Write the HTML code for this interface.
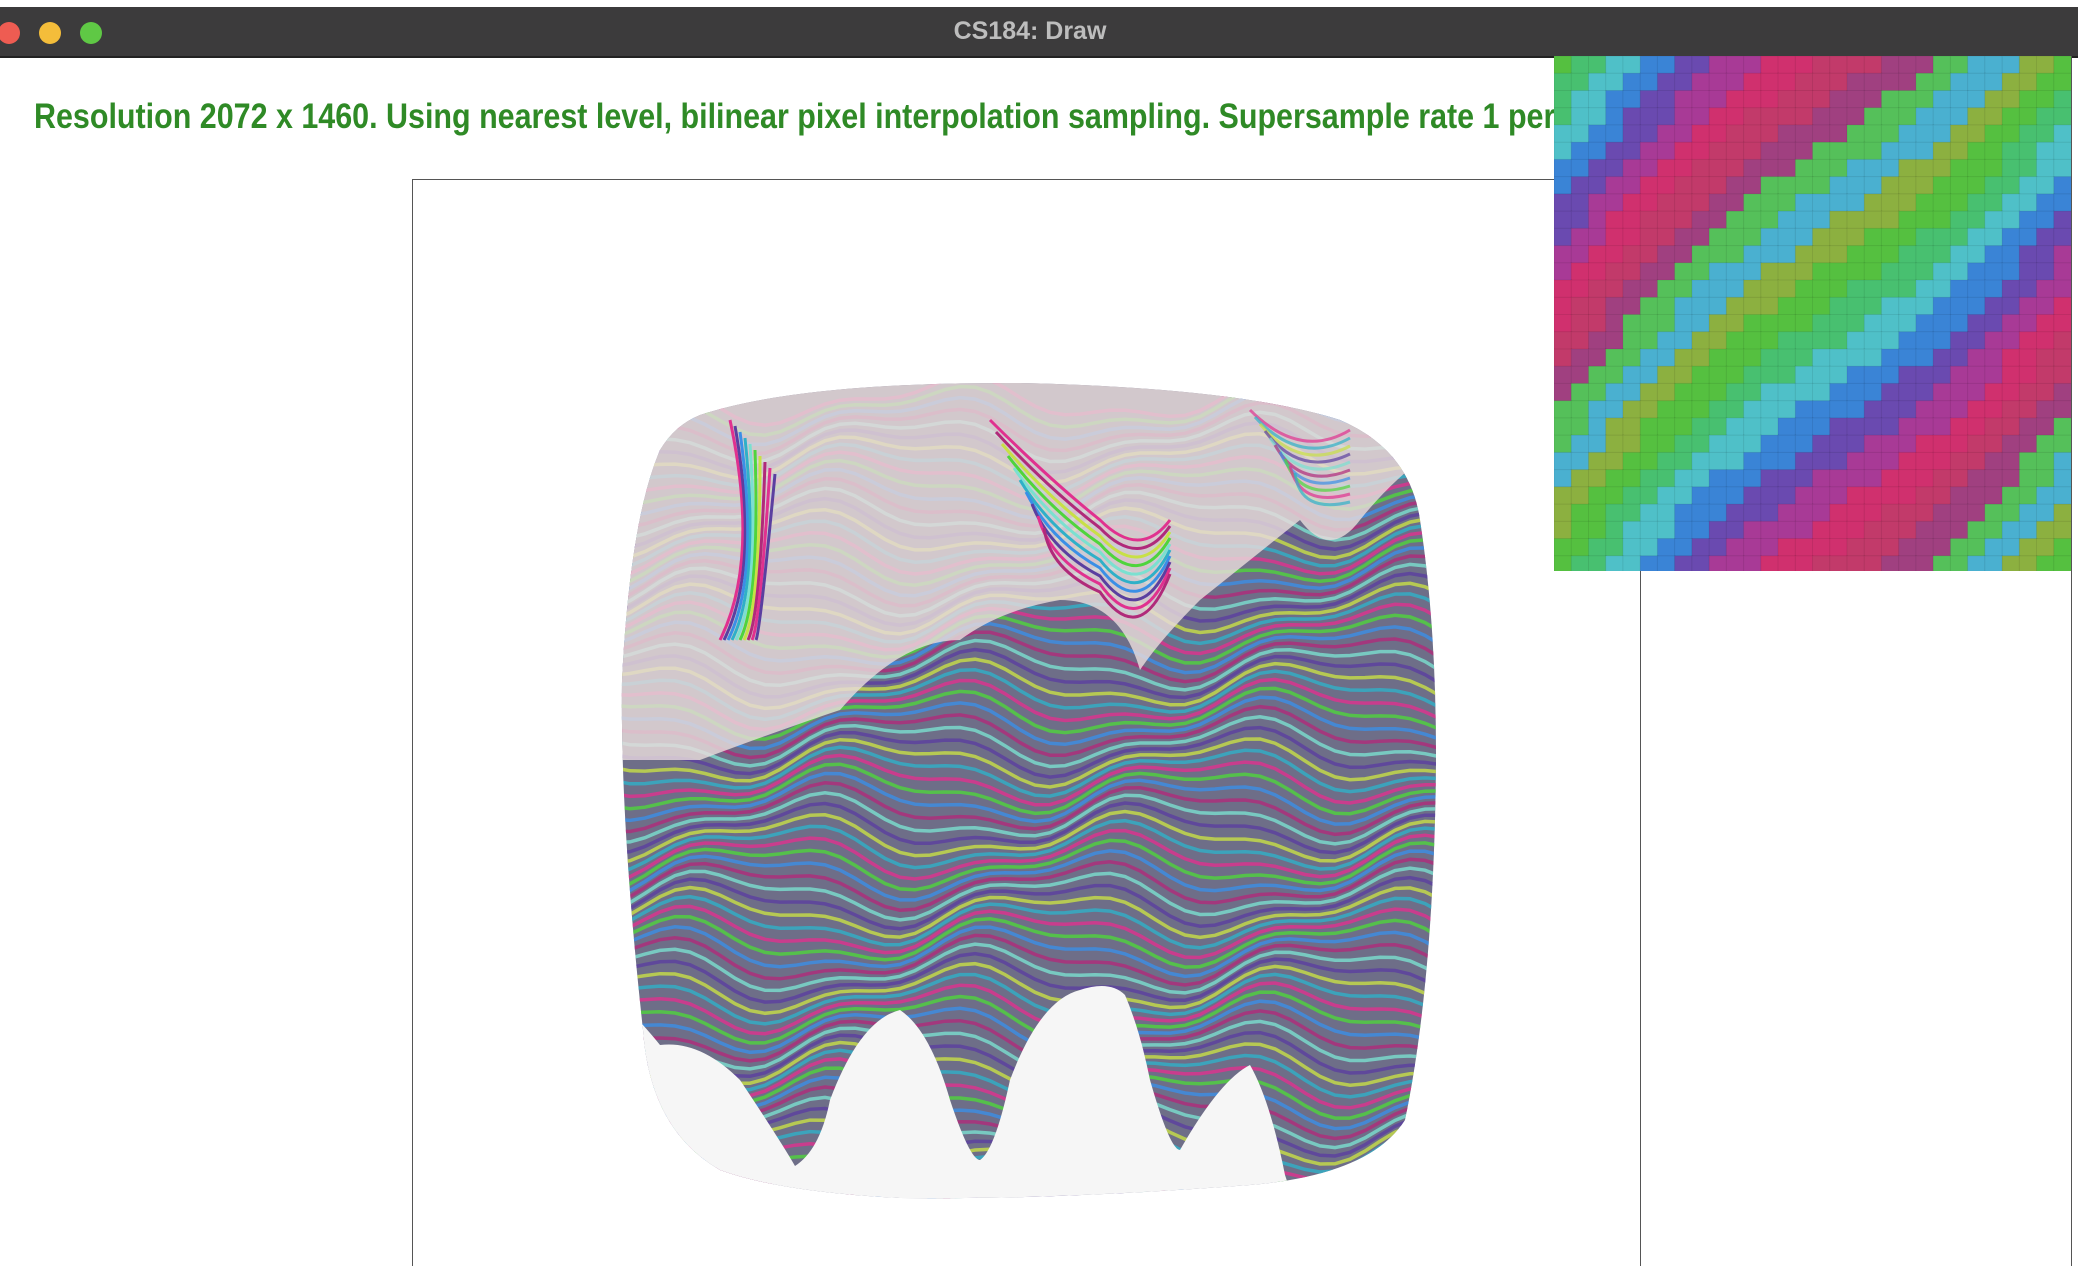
<!DOCTYPE html>
<html><head><meta charset="utf-8"><style>
html,body{margin:0;padding:0;background:#fff;width:2078px;height:1266px;overflow:hidden;position:relative;font-family:"Liberation Sans",sans-serif}
#bar{position:absolute;left:0;top:7px;width:2078px;height:49px;background:#3c3b3c;border-bottom:2px solid #222}
#title{position:absolute;left:0;width:2060px;top:10px;text-align:center;color:#bdbdbd;font-weight:bold;font-size:25px}
.dot{position:absolute;top:15px;width:22px;height:22px;border-radius:50%}
#info{position:absolute;left:34px;top:97px;color:#2f8a26;font-weight:bold;font-size:35px;white-space:nowrap;transform-origin:0 0;transform:scaleX(0.87)}
.ln{position:absolute;background:#555}
</style></head><body>
<div id="bar">
<div class="dot" style="left:-2px;background:#ee5c52"></div>
<div class="dot" style="left:39px;background:#f4bd3a"></div>
<div class="dot" style="left:80px;background:#5fc845"></div>
<div id="title">CS184: Draw</div>
</div>
<div class="ln" style="left:412px;top:179px;width:1229px;height:1px"></div>
<div class="ln" style="left:412px;top:179px;width:1px;height:1087px"></div>
<div class="ln" style="left:1640px;top:179px;width:1px;height:1087px"></div>
<div class="ln" style="left:2071px;top:56px;width:1px;height:1210px"></div>
<svg id="blob" width="2078" height="1266" style="position:absolute;left:0;top:0">
<defs><clipPath id="cp"><path d="M700,415 Q800,382 1020,383 Q1240,388 1340,420 Q1410,450 1420,520 Q1440,650 1435,820 Q1430,1000 1405,1120 Q1370,1175 1250,1185 Q1050,1200 900,1198 Q780,1192 720,1170 Q650,1130 643,1030 Q620,820 622,680 Q630,520 660,450 Q675,425 700,415Z"/></clipPath></defs>
<g clip-path="url(#cp)" id="g"></g>
</svg>
<div id="info">Resolution 2072 x 1460. Using nearest level, bilinear pixel interpolation sampling. Supersample rate 1 per pixel.</div>
<svg id="zoom" width="517" height="515" style="position:absolute;left:1554px;top:56px"></svg>
<script>
const NS='http://www.w3.org/2000/svg';
const g=document.getElementById('g');
function mk(t,a){const e=document.createElementNS(NS,t);for(const k in a)e.setAttribute(k,a[k]);return e;}
g.appendChild(mk('rect',{x:600,y:370,width:850,height:850,fill:'#6e6e88'}));
const cols=['#e0318f','#4fd43c','#3b8fe6','#b02a7a','#7be0d0','#5b3fa0','#c8e046','#2fb0c8'];
for(let i=0;i<90;i++){
 const y0=400+i*9.5;let d='';
 for(let x=600;x<=1450;x+=15){
  const w=Math.sin(x/55+i*0.2)*18+Math.sin(x/23)*8;
  d+=(x==600?'M':'L')+x+','+(y0+w).toFixed(1);
 }
 g.appendChild(mk('path',{d:d,stroke:cols[i%8],'stroke-width':3.5,fill:'none',opacity:0.8}));
}
// pale top region
g.appendChild(mk('path',{d:'M600,370 L1450,370 L1450,440 Q1400,470 1360,520 Q1330,560 1300,520 Q1250,560 1200,600 Q1160,640 1140,670 Q1120,600 1060,600 Q1000,610 960,640 Q900,640 840,710 Q780,730 700,760 L600,760Z',fill:'#e8dcdc',opacity:0.82}));
for(let i=0;i<10;i++){
 g.appendChild(mk('path',{d:`M${990+i*6},${420+i*12} Q1050,${480+i*10} 1100,${520+i*8} Q1140,${560+i*10} 1170,${520+i*6}`,stroke:cols[(i*3)%8],'stroke-width':3,fill:'none'}));
 g.appendChild(mk('path',{d:`M${730+i*5},${420+i*6} Q${760},${560+i*8} ${720+i*4},${640}`,stroke:cols[(i*5)%8],'stroke-width':3,fill:'none'}));
 g.appendChild(mk('path',{d:`M${1250+i*5},${410+i*7} Q1300,${460+i*6} ${1350},${430+i*8}`,stroke:cols[(i*7)%8],'stroke-width':3,fill:'none',opacity:0.7}));
}
// bottom white drips
g.appendChild(mk('path',{d:'M600,1220 L600,980 Q640,1020 660,1045 Q700,1040 740,1080 Q780,1140 795,1166 Q820,1150 830,1100 Q860,1020 900,1010 Q930,1030 950,1100 Q970,1160 980,1160 Q995,1150 1010,1080 Q1040,1000 1080,990 Q1110,980 1125,995 Q1140,1030 1150,1080 Q1170,1150 1180,1150 Q1220,1080 1250,1065 Q1270,1100 1285,1175 L1300,1220Z',fill:'#f6f6f6'}));
// pixel grid
const z=document.getElementById('zoom');
const pal=['#8cb040','#55c040','#48c070','#4fc0c8','#3a84d6','#6a4ab0','#a83a96','#d0306e','#c23a6a','#a04080','#55c05a','#4ab0d0'];
const n=30,cs=517/n;
for(let r=0;r<n;r++)for(let c=0;c<n;c++){
 const k=Math.floor(((r+c)+Math.sin(c/5)*1.5+4)/2.4)%pal.length;
 const e=mk('rect',{x:(c*cs).toFixed(1),y:(r*cs).toFixed(1),width:cs+0.5,height:cs+0.5,fill:pal[k],stroke:'rgba(0,0,0,0.08)','stroke-width':1});
 z.appendChild(e);
}
</script>
</body></html>
